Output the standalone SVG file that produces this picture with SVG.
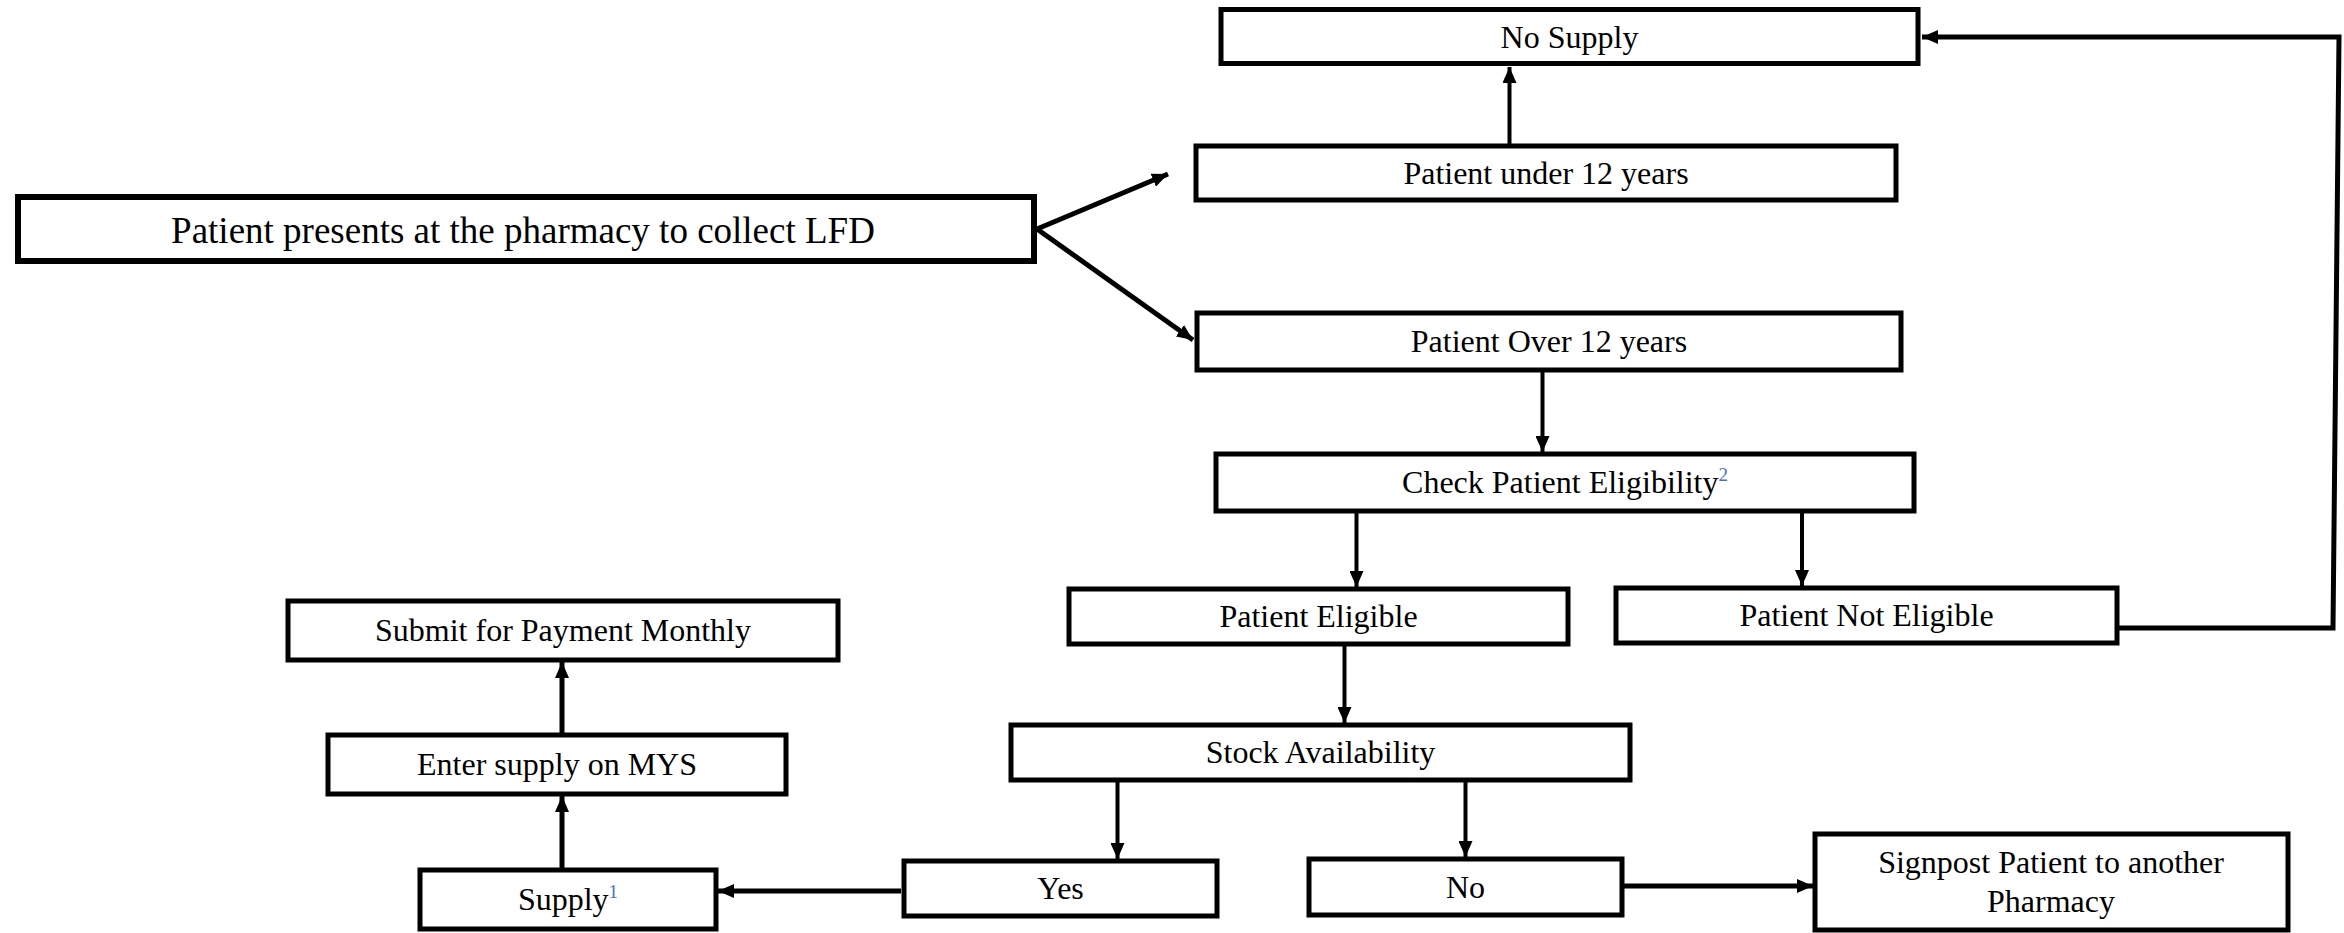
<svg xmlns="http://www.w3.org/2000/svg" width="2344" height="933" viewBox="0 0 2344 933">
<style>
.box{fill:#fff;stroke:#000;stroke-width:5}
.t{font-family:"Liberation Serif","Times New Roman",serif;font-size:32px;fill:#000;text-anchor:middle}
.big{font-size:37px}
.sup{fill:#4472C4;font-size:19px}
.c{fill:none;stroke:#000;stroke-width:4}
.c5{stroke-width:5}
</style>
<defs>
<marker id="ah" markerUnits="userSpaceOnUse" markerWidth="17" markerHeight="14" refX="16" refY="7" orient="auto">
<path d="M0,0 L16,7 L0,14 z" fill="#000"/>
</marker>
</defs>
<rect width="2344" height="933" fill="#fff"/>
<g id="connectors">
<line class="c c5" x1="1037" y1="229" x2="1168" y2="174" marker-end="url(#ah)"/>
<line class="c c5" x1="1037" y1="229" x2="1193" y2="340" marker-end="url(#ah)"/>
<line class="c" x1="1509.5" y1="146" x2="1509.5" y2="67" marker-end="url(#ah)"/>
<line class="c" x1="1542.5" y1="371" x2="1542.5" y2="452" marker-end="url(#ah)"/>
<line class="c" x1="1356.5" y1="511" x2="1356.5" y2="587" marker-end="url(#ah)"/>
<line class="c" x1="1802" y1="511" x2="1802" y2="586" marker-end="url(#ah)"/>
<polyline class="c c5" points="2119,628 2333,628 2339,37 1922,37" marker-end="url(#ah)"/>
<line class="c" x1="1344.5" y1="644" x2="1344.5" y2="723" marker-end="url(#ah)"/>
<line class="c" x1="1117.5" y1="780" x2="1117.5" y2="859" marker-end="url(#ah)"/>
<line class="c" x1="1465.5" y1="780" x2="1465.5" y2="857" marker-end="url(#ah)"/>
<line class="c c5" x1="1624" y1="886" x2="1813" y2="886" marker-end="url(#ah)"/>
<line class="c c5" x1="901" y1="891" x2="718" y2="891" marker-end="url(#ah)"/>
<line class="c c5" x1="562" y1="869" x2="562" y2="796" marker-end="url(#ah)"/>
<line class="c c5" x1="562" y1="734" x2="562" y2="662" marker-end="url(#ah)"/>
</g>
<g id="start">
<rect class="box" x="18" y="197" width="1016" height="64" style="stroke-width:6"/>
<text class="t big" x="523" y="243">Patient presents at the pharmacy to collect LFD</text>
</g>
<g id="nosupply">
<rect class="box" x="1221" y="9.5" width="697" height="54"/>
<text class="t" x="1569.5" y="48">No Supply</text>
</g>
<g id="under12">
<rect class="box" x="1196" y="146" width="700" height="54"/>
<text class="t" x="1546" y="184">Patient under 12 years</text>
</g>
<g id="over12">
<rect class="box" x="1197" y="313" width="704" height="57"/>
<text class="t" x="1549" y="352">Patient Over 12 years</text>
</g>
<g id="check">
<rect class="box" x="1216" y="454" width="698" height="57"/>
<text class="t" x="1565" y="493">Check Patient Eligibility<tspan class="sup" dy="-12">2</tspan></text>
</g>
<g id="eligible">
<rect class="box" x="1069" y="589" width="499" height="55"/>
<text class="t" x="1318.5" y="627">Patient Eligible</text>
</g>
<g id="noteligible">
<rect class="box" x="1616" y="588" width="501" height="55"/>
<text class="t" x="1866.5" y="626">Patient Not Eligible</text>
</g>
<g id="stock">
<rect class="box" x="1011" y="725" width="619" height="55"/>
<text class="t" x="1320.5" y="763">Stock Availability</text>
</g>
<g id="yes">
<rect class="box" x="904" y="861" width="313" height="55"/>
<text class="t" x="1060.5" y="899">Yes</text>
</g>
<g id="no">
<rect class="box" x="1309" y="859" width="313" height="56"/>
<text class="t" x="1465.5" y="898">No</text>
</g>
<g id="signpost">
<rect class="box" x="1815" y="834" width="473" height="96"/>
<text class="t" x="2051" y="873">Signpost Patient to another</text>
<text class="t" x="2051" y="912">Pharmacy</text>
</g>
<g id="supply">
<rect class="box" x="420" y="870" width="296" height="59"/>
<text class="t" x="568" y="910">Supply<tspan class="sup" dy="-12">1</tspan></text>
</g>
<g id="enter">
<rect class="box" x="328" y="735" width="458" height="59"/>
<text class="t" x="557" y="775">Enter supply on MYS</text>
</g>
<g id="submit">
<rect class="box" x="288" y="601" width="550" height="59"/>
<text class="t" x="563" y="641">Submit for Payment Monthly</text>
</g>
</svg>
